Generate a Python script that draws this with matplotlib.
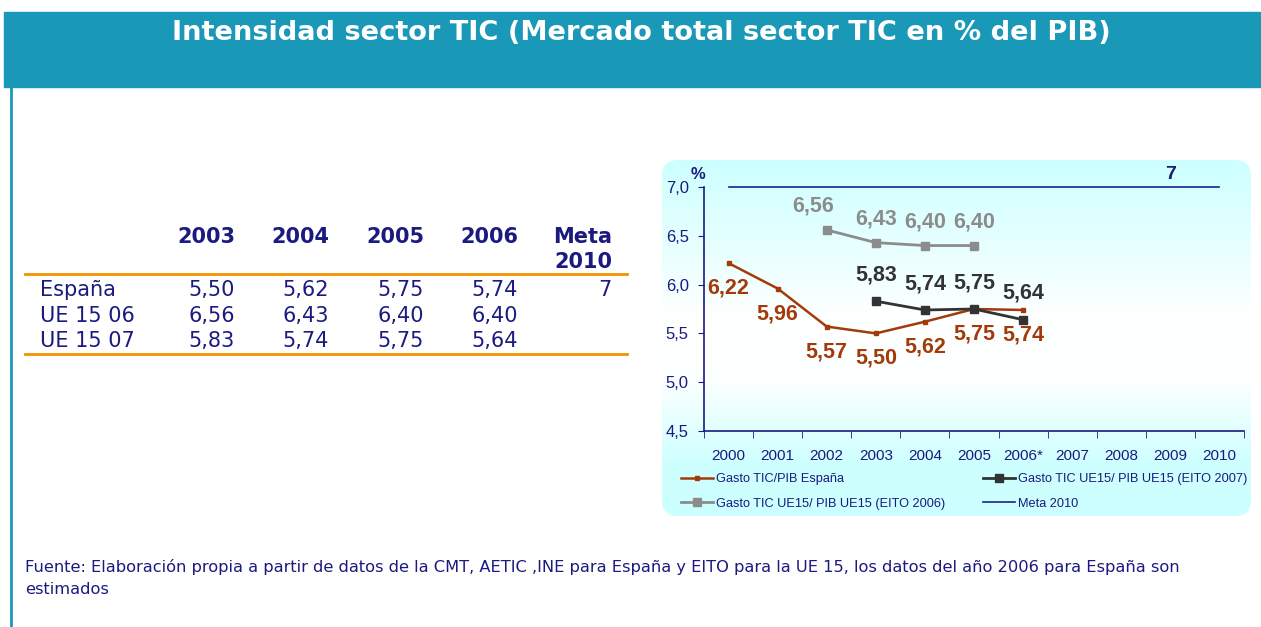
import numpy as np
import matplotlib.pyplot as plt
from matplotlib.colors import LinearSegmentedColormap
from matplotlib.patches import FancyBboxPatch, Rectangle
from matplotlib.lines import Line2D

# data
years = ["2000", "2001", "2002", "2003", "2004", "2005", "2006*",
         "2007", "2008", "2009", "2010"]
espana = [6.22, 5.96, 5.57, 5.50, 5.62, 5.75, 5.74]          # 2000-2006
eito06 = [6.56, 6.43, 6.40, 6.40]                            # 2002-2005
eito07 = [5.83, 5.74, 5.75, 5.64]                            # 2003-2006
meta = 7

tab_cols = ["2003", "2004", "2005", "2006"]
tab_rows = ["España", "UE 15 06", "UE 15 07"]
tab_vals = [[5.50, 5.62, 5.75, 5.74],
            [6.56, 6.43, 6.40, 6.40],
            [5.83, 5.74, 5.75, 5.64]]
tab_meta = ["7", "", ""]

title = "Intensidad sector TIC (Mercado total sector TIC en % del PIB)"
fuente = ("Fuente: Elaboración propia a partir de datos de la CMT, AETIC ,INE para España y "
          "EITO para la UE 15, los datos del año 2006 para España son\nestimados")

W, H = 1261, 627
navy = "#1A1A80"
teal = "#1A98B8"
orange = "#F39200"
c_es = "#A33A0A"
c_06 = "#8C8C8C"
c_07 = "#333333"


def fx(px):
    return px / W


def fy(py):
    return 1 - py / H


def comma(v, fmt="{:.2f}"):
    return fmt.format(v).replace(".", ",")


fig = plt.figure(figsize=(W / 100, H / 100), dpi=100)
fig.patch.set_facecolor("white")

# header band and left border
fig.patches.append(Rectangle((fx(4), fy(87)), 1 - fx(4), fy(12) - fy(87),
                             transform=fig.transFigure, color=teal, zorder=0))
fig.add_artist(Line2D([fx(11), fx(11)], [fy(87), 0], transform=fig.transFigure,
                      color=teal, lw=2))
fig.text(fx(641), fy(33), title, color="white", fontsize=19.6, fontweight="bold",
         family="DejaVu Sans", ha="center", va="center")

# table
tab_x = [235, 329, 424, 518]
for x, c in zip(tab_x, tab_cols):
    fig.text(fx(x), fy(237), c, color=navy, fontsize=15, fontweight="bold",
             ha="right", va="center")
fig.text(fx(612), fy(237), "Meta", color=navy, fontsize=15, fontweight="bold",
         ha="right", va="center")
fig.text(fx(612), fy(262), "2010", color=navy, fontsize=15, fontweight="bold",
         ha="right", va="center")
for yy in (274, 354):
    fig.add_artist(Line2D([fx(25), fx(627)], [fy(yy), fy(yy)],
                          transform=fig.transFigure, color=orange, lw=2))
row_y = [290, 316, 341]
for r, name in enumerate(tab_rows):
    fig.text(fx(40), fy(row_y[r]), name, color=navy, fontsize=15,
             ha="left", va="center")
    for x, v in zip(tab_x, tab_vals[r]):
        fig.text(fx(x), fy(row_y[r]), comma(v), color=navy, fontsize=15,
                 ha="right", va="center")
    fig.text(fx(612), fy(row_y[r]), tab_meta[r], color=navy, fontsize=15,
             ha="right", va="center")

# footer
fig.text(fx(25), fy(559), fuente, color=navy, fontsize=11.7, ha="left",
         va="top", linespacing=1.62)

# chart panel background (rounded, gradient)
px0, py0, px1, py1 = 662, 160, 1251, 516
bg = fig.add_axes([fx(px0), fy(py1), fx(px1 - px0), fy(py0) - fy(py1)])
bg.set_xlim(0, px1 - px0)
bg.set_ylim(0, py1 - py0)
bg.axis("off")
cmap = LinearSegmentedColormap.from_list(
    "bg", [(0, "#CCFFFF"), (0.45, "#FFFFFF"), (0.62, "#FCFFFF"),
           (0.85, "#CFFFFF"), (1, "#CCFFFF")])
grad = np.linspace(0, 1, 256).reshape(-1, 1)
im = bg.imshow(grad, cmap=cmap, aspect="auto",
               extent=[0, px1 - px0, py1 - py0, 0], origin="upper")
clip = FancyBboxPatch((0, 0), px1 - px0, py1 - py0,
                      boxstyle="round,pad=0,rounding_size=16",
                      transform=bg.transData, facecolor="none", edgecolor="none")
bg.add_patch(clip)
im.set_clip_path(clip)
bg.set_ylim(py1 - py0, 0)

# chart
plt.rcParams["font.family"] = "Liberation Sans"
ax = fig.add_axes([fx(704), fy(431), fx(1244 - 704), fy(187) - fy(431)])
ax.patch.set_alpha(0)
x = np.arange(len(years))
l_es, = ax.plot(x[0:7], espana, color=c_es, lw=1.8, marker="s", ms=3.5,
                label="Gasto TIC/PIB España")
l_06, = ax.plot(x[2:6], eito06, color=c_06, lw=2, marker="s", ms=6,
                label="Gasto TIC UE15/ PIB UE15 (EITO 2006)")
l_07, = ax.plot(x[3:7], eito07, color=c_07, lw=2, marker="s", ms=6,
                label="Gasto TIC UE15/ PIB UE15 (EITO 2007)")
l_me, = ax.plot([x[0], x[10]], [meta, meta], color="#1F1F8F", lw=1.2,
                label="Meta 2010", clip_on=False)

for xi, v in zip(x[0:7], espana):
    ax.annotate(comma(v), (xi, v), xytext=(0, -18), textcoords="offset points",
                ha="center", va="center", color=c_es, fontsize=15.5,
                fontweight="bold")
for i, (xi, v) in enumerate(zip(x[2:6], eito06)):
    dx = -10 if i == 0 else 0
    ax.annotate(comma(v), (xi, v), xytext=(dx, 17), textcoords="offset points",
                ha="center", va="center", color=c_06, fontsize=15.5,
                fontweight="bold")
for xi, v in zip(x[3:7], eito07):
    ax.annotate(comma(v), (xi, v), xytext=(0, 19), textcoords="offset points",
                ha="center", va="center", color=c_07, fontsize=15.5,
                fontweight="bold")
ax.annotate(str(meta), (x[9], meta), xytext=(0, 9), textcoords="offset points",
            ha="center", va="center", color=navy, fontsize=14,
            fontweight="bold", annotation_clip=False)

ax.set_xlim(-0.5, len(years) - 0.5)
ax.set_ylim(4.5, 7.0)
ax.set_yticks(np.arange(4.5, 7.01, 0.5))
ax.set_yticklabels([comma(v, "{:.1f}") for v in np.arange(4.5, 7.01, 0.5)])
ax.set_xticks(x)
ax.set_xticklabels(years)
ax.set_xticks(np.arange(-0.5, len(years)), minor=True)
ax.tick_params(axis="x", which="major", length=0, pad=13, labelsize=11,
               labelcolor=navy)
ax.tick_params(axis="x", which="minor", length=5, color=navy, direction="out")
ax.tick_params(axis="y", length=4, color=navy, labelsize=12, labelcolor=navy,
               pad=7)
for s in ("top", "right"):
    ax.spines[s].set_visible(False)
for s in ("left", "bottom"):
    ax.spines[s].set_color(navy)
    ax.spines[s].set_linewidth(1.2)
fig.text(fx(698), fy(175), "%", color=navy, fontsize=12, fontweight="bold",
         ha="center", va="center")

fig.legend(handles=[l_es, l_06, l_07, l_me], ncol=2, loc="upper left",
           bbox_to_anchor=(fx(676), fy(468)), frameon=False, fontsize=9.2,
           labelcolor=navy, handlelength=2.5, handletextpad=0.25,
           columnspacing=2.9, labelspacing=1.0, borderaxespad=0)

fig.savefig("out.png", dpi=100)
